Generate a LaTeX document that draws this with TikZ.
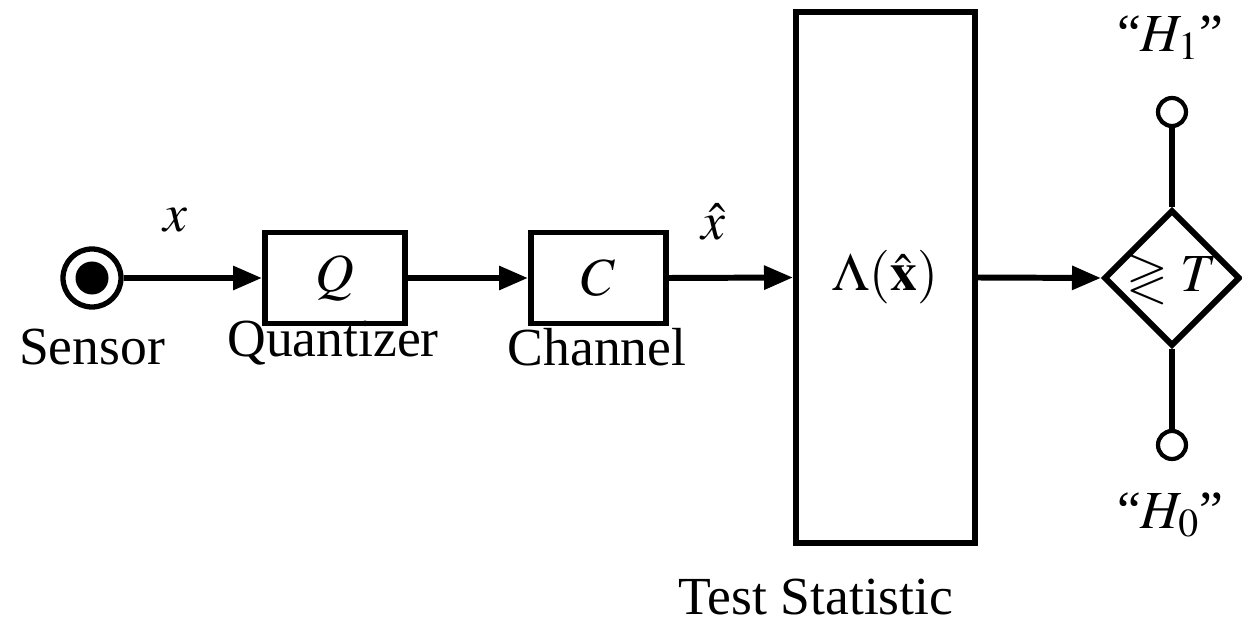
\documentclass[tikz,border=0pt]{standalone}
\usepackage{amssymb}
\usepackage{mathptmx}
\usepackage[no-math]{fontspec}
\setmainfont{Liberation Serif}
\usetikzlibrary{arrows.meta,positioning,shapes.geometric}

\begin{document}
\begin{tikzpicture}[
    every node/.style={
      font=\fontsize{30.5}{36}\selectfont
    },
    block/.style={
      draw,
      line width=3.4pt,
      minimum width=#1,
      minimum height=1.82cm,
      inner sep=0pt
    },
    arrow/.style={
      -{Triangle[length=0.58cm,width=0.46cm]},
      line width=3.4pt
    },
    wire/.style={
      line width=3.4pt
    },
    port/.style={
      circle,
      draw,
      line width=2.4pt,
      minimum size=0.56cm,
      inner sep=0pt
    }
  ]
  \useasboundingbox (0,0) rectangle (24.84,12.46);

  % Sensor
  \node[circle,draw,line width=3pt,minimum size=1.16cm,inner sep=0pt] (sensor) at (1.84,6.9) {};
  \node[circle,fill=black,minimum size=0.66cm,inner sep=0pt] (sensordot) at (sensor.center) {};

  % Blocks
  \node[block=2.8cm]  (quant) at (6.7,6.9)   {$Q$};
  \node[block=2.7cm]  (chan)  at (11.97,6.9) {$C$};
  \node[block=3.58cm,minimum height=10.62cm] (stat) at (17.71,6.91) {$\Lambda(\hat{\mathbf{x}})$};

  % Decision
  \node[diamond,draw,line width=3.4pt,minimum width=2.6cm,minimum height=2.62cm,inner sep=0pt,aspect=1]
    (dec) at (23.44,6.9) {$\gtrless T$};
  \node[port] (hone)  at (23.44,10.22) {};
  \node[port] (hzero) at (23.44,3.56)  {};

  % Labels
  \node (sensorlbl) at (1.84,5.52)  {Sensor};
  \node (quantlbl)  at (6.66,5.6)   {Quantizer};
  \node (chanlbl)   at (11.94,5.52) {Channel};
  \node (statlbl)   at (16.32,0.52) {Test Statistic};
  \node (xlbl)      at (3.5,8.06)   {$x$};
  \node (xhatlbl)   at (14.26,8.02) {$\hat{x}$};
  \node (honelbl)   at (23.4,11.7)  {``$H_1$''};
  \node (hzerolbl)  at (23.4,2.16)  {``$H_0$''};

  % Arrows
  \draw[arrow] (sensor.east) -- (quant.west);
  \draw[arrow] (quant.east)  -- (chan.west);
  \draw[arrow] (chan.east)   -- (stat.west);
  \draw[arrow] (stat.east)   -- (dec.west);
  \draw[wire]  (dec.north)   -- (hone.south);
  \draw[wire]  (dec.south)   -- (hzero.north);

\end{tikzpicture}
\end{document}
